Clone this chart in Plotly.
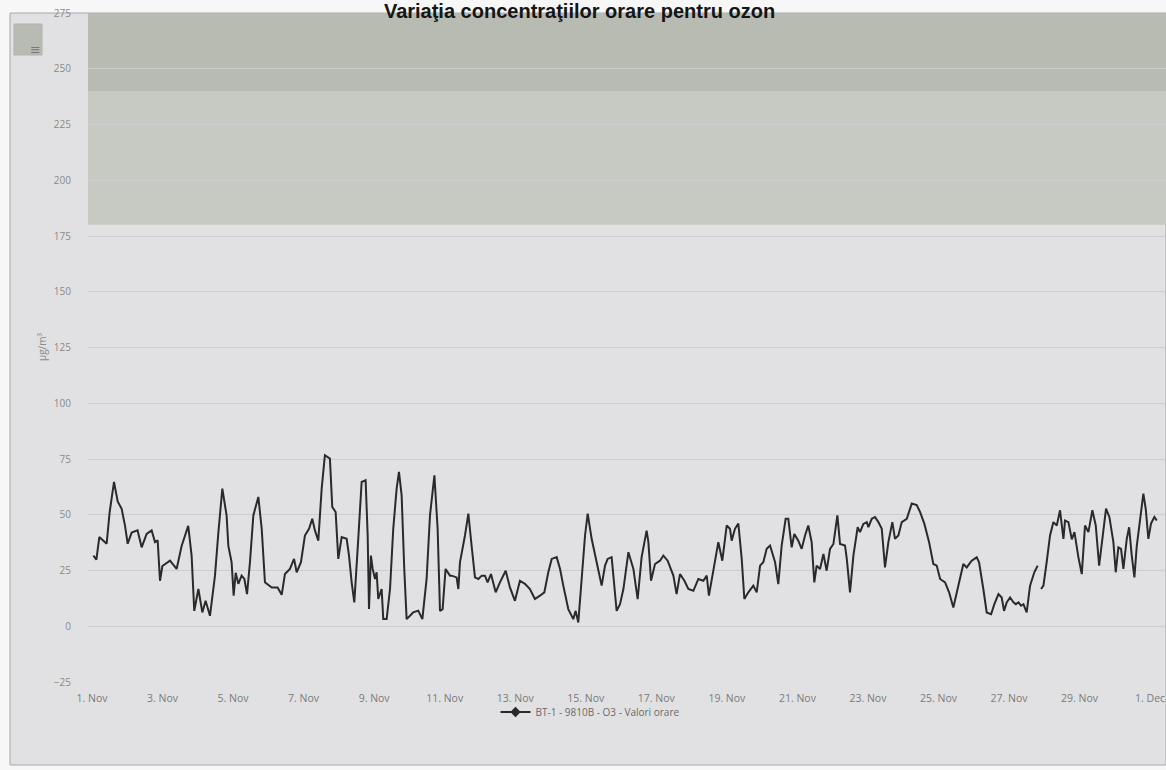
import pandas as pd
import plotly.graph_objects as go

# ---- data: (hours since 1 Nov 00:00, µg/m³) ----
seg_1_10_nov = [
    (1, 31.7), (3, 29.9), (5, 40), (10, 37), (12, 51), (15, 64.7), (17.5, 56), (20.2, 52.7),
    (22.5, 45), (24.3, 37), (27, 42), (31, 43), (33.8, 35.4), (37.2, 41.4), (40.6, 43),
    (42.9, 37.7), (44.7, 38.5), (46.3, 20.4), (47.9, 27), (53.1, 29.4), (57.6, 25.7), (61, 36),
    (65.5, 45), (67.8, 31.7), (69.6, 6.9), (72.4, 16.7), (75.1, 6.2), (77.3, 11.4), (80.3, 4.7),
    (83.7, 22.7), (86, 42), (88.7, 61.7), (91.6, 49.7), (92.8, 36), (95, 28.7), (96.4, 13.7),
    (97.8, 24), (99.6, 19), (101.8, 22.7), (103.7, 21.2), (105.5, 14.4), (107.5, 28.7),
    (109.8, 49.7), (113.2, 58), (115.5, 43.7), (117.7, 19.7), (122.3, 17.4), (126.3, 17.4),
    (129.1, 14.1), (131.3, 23.4), (134.7, 25.7), (137.5, 30.2), (139.3, 24.2), (142.2, 28.7),
    (144.9, 40.7), (147.7, 43.7), (149.9, 48.2), (151.7, 43), (154, 38.4), (156.3, 61.7),
    (158.5, 76.7), (161.9, 75.2), (163.5, 53.5), (165.8, 51.2), (167.6, 30.2), (169.9, 40),
    (173.3, 39.2), (174.9, 31.7), (176.7, 19.7), (178.5, 10.7), (181.2, 39.2), (183.5, 64.7),
    (186.2, 65.5), (187.6, 40.7), (188.5, 7.7), (189.8, 31.7), (191, 25.7), (192.6, 21.2),
    (193.7, 24.2), (194.8, 12.2), (197.1, 16.7), (198.2, 3.2), (200.5, 3.2), (202.8, 16.7),
    (205, 43.7), (207.3, 61.7), (208.9, 69.2), (210.7, 58.7), (212.5, 25.7), (214.1, 3.2),
    (216.4, 4.7), (218.6, 6.2), (222, 7), (224.8, 3.2), (227.7, 21.2), (230, 49.7), (233, 67.7),
    (235.2, 43.7), (236.8, 6.9), (238.6, 7.7), (240.6, 25.7), (243.6, 22.7),
]
seg_11_21_nov = [
    (244.7, 22.7), (248.1, 21.9), (249.3, 16.7), (250.4, 28.7), (253.8, 40.7), (256.1, 50.5),
    (258.3, 36.2), (260.6, 21.9), (262.9, 21.2), (265.2, 22.7), (267.4, 22.7), (269.2, 19.7),
    (271.5, 23.4), (274.7, 15.2), (277.6, 19.7), (281.5, 24.9), (284.4, 17.4), (287.8, 11.4),
    (291.2, 20.4), (294.6, 19), (298.0, 16.7), (301.4, 12.2), (304.8, 13.7), (307.8, 15.2),
    (310.5, 24.2), (312.8, 30.2), (316.2, 31), (318.5, 25.7), (320.7, 18.2), (324.1, 7.7),
    (327.5, 3.2), (329.1, 6.9), (330.9, 1.7), (333.2, 22.7), (335.5, 40.7), (337.3, 50.5),
    (340.0, 39.2), (343.4, 28.7), (346.8, 18.2), (349.1, 27.2), (350.9, 30.2), (353.6, 31),
    (354.7, 24.2), (357.0, 6.9), (359.3, 9.9), (361.6, 16.7), (365.0, 33.2), (368.4, 25.7),
    (371.3, 12.2), (374.0, 31), (377.4, 42.9), (378.6, 37.7), (380.4, 20.4), (383.1, 27.9),
    (386.5, 29.4), (388.8, 31.7), (391.7, 29.4), (395.6, 22.7), (397.8, 14.4), (400.1, 23.4),
    (403.1, 20.4), (405.8, 16.7), (409.2, 15.9), (412.6, 21.2), (416.0, 20.4), (418.3, 22.7),
    (419.8, 13.7), (422.8, 25.7), (426.2, 37.7), (428.9, 29.4), (431.9, 45.2), (434.1, 43.7),
    (435.3, 38.4), (437.5, 43.7), (439.8, 46), (442.1, 30.2), (443.9, 12.2), (446.6, 15.2),
    (450.0, 18.2), (452.3, 15.2), (454.6, 27.2), (456.8, 28.7), (459.1, 34.7), (461.4, 36.2),
    (464.8, 28.7), (467.0, 18.9), (469.3, 36.2), (472.0, 48.2), (473.8, 48.2), (476.1, 35.4),
    (477.9, 41.4), (480.6, 38.4), (482.9, 34.7), (485.2, 40.7), (487.4, 45.2), (489.7, 37.7),
    (491.5, 19.7),
]
seg_21_27_nov = [
    (493.1, 27.2), (495.4, 25.7), (497.7, 32.4), (499.9, 24.9), (502.2, 34.7), (504.5, 36.9),
    (507.2, 49.7), (509, 36.9), (512.4, 36.2), (513.6, 30.2), (515.8, 15.2), (518.1, 31.7),
    (521, 44.4), (522.6, 42.2), (524.9, 45.9), (527.2, 46.7), (528.3, 44.4), (530.6, 48.2),
    (532.8, 49), (535.1, 46.7), (537.4, 43.7), (539.6, 26.4), (541.9, 37.7), (544.6, 46.7),
    (546.4, 39.2), (548.7, 40.7), (551, 46.7), (554.4, 48.2), (557.8, 55), (561.2, 54.3),
    (563.5, 51.2), (566.4, 45.9), (569.6, 37.7), (572.5, 27.9), (574.8, 27.2), (577.1, 21.2),
    (580.5, 19.7), (583.2, 15.2), (586.1, 8.4), (589.1, 16.7), (592.9, 27.9), (595.2, 26.4),
    (596.8, 27.9), (598.6, 29.4), (602, 30.9), (603.6, 28.7), (606.5, 16.7), (608.8, 6.2),
    (611.8, 5.4), (614, 9.9), (616.8, 14.4), (619, 12.9), (620.6, 6.9), (622.4, 10.7),
    (624.7, 12.9), (627, 10.7), (628.6, 9.9), (630.4, 10.7), (632.2, 9.2), (633.8, 9.9),
    (636, 6.2), (638.3, 18.2), (641.2, 24.2), (643.5, 27.2),
]
# after the small gap in the record
seg_27_30_nov = [
    (645.8, 16.7), (647.4, 18.2), (649.6, 28.7), (651.9, 40.7), (654.2, 46.7), (656.5, 45.2),
    (658.7, 52), (661, 39.2), (662.1, 47.4), (664.4, 46.7), (666.7, 39), (668.5, 42.2),
    (671.2, 30.9), (673.5, 23.4), (675.7, 45.2), (678, 42.2), (680.7, 52), (683, 45.2),
    (685.3, 27.2), (687.5, 39.2), (690, 52.7), (692.3, 48.9), (695, 37.7), (696.6, 24.2),
    (698.4, 35.4), (700.2, 34.7), (701.8, 25.7), (704.1, 39.2), (705.7, 44.4), (707.5, 31.7),
    (709.3, 21.9), (710.9, 35.9), (712.7, 45.2), (715.4, 59.5), (717, 52.7), (718.8, 39.2),
    (720.6, 46), (722.9, 49), (724.5, 47.4),
]

tick_days = [1, 3, 5, 7, 9, 11, 13, 15, 17, 19, 21, 23, 25, 27, 29, 31]
tick_labels = ["1. Nov", "3. Nov", "5. Nov", "7. Nov", "9. Nov", "11. Nov", "13. Nov", "15. Nov",
               "17. Nov", "19. Nov", "21. Nov", "23. Nov", "25. Nov", "27. Nov", "29. Nov", "1. Dec"]
info_threshold = 180
alert_threshold = 240
series_name = "BT-1 - 9810B - O3 - Valori orare"
title_text = "Variaţia concentraţiilor orare pentru ozon"

base = pd.Timestamp("2019-11-01 00:00")
segments = [seg_1_10_nov + seg_11_21_nov + seg_21_27_nov, seg_27_30_nov]
xs, ys = [], []
for i, seg in enumerate(segments):
    if i > 0:
        xs.append(None)
        ys.append(None)
    for h, v in seg:
        xs.append(base + pd.Timedelta(hours=h))
        ys.append(v)

tick_vals = [base + pd.Timedelta(days=d - 1) for d in tick_days]

fig = go.Figure()
fig.add_trace(go.Scatter(x=xs, y=ys, mode="lines", line=dict(color="#2a2a2a", width=2),
                         showlegend=False, connectgaps=False))
fig.add_trace(go.Scatter(x=[None], y=[None], mode="lines+markers", name=series_name,
                         line=dict(color="#2a2a2a", width=2),
                         marker=dict(symbol="diamond", size=8, color="#2a2a2a")))

W, H = 1166, 770
L, R, T, B = 88, 0, 13, 88
pw, ph = W - L - R, H - T - B


def px_x(x):
    return (x - L) / pw


def px_y(y):
    return (H - B - y) / ph


shapes = [
    dict(type="rect", xref="paper", yref="paper", x0=px_x(10), x1=1.0, y0=px_y(765), y1=1.0,
         fillcolor="#e1e1e3", line=dict(color="#a9a9a9", width=1), layer="below"),
    dict(type="rect", xref="paper", yref="y", x0=0, x1=1, y0=info_threshold, y1=alert_threshold,
         fillcolor="#c7cac2", line=dict(width=0), layer="below"),
    dict(type="rect", xref="paper", yref="y", x0=0, x1=1, y0=alert_threshold, y1=300,
         fillcolor="#b7bbb2", line=dict(width=0), layer="below"),
    dict(type="rect", xref="paper", yref="paper", x0=px_x(14), x1=px_x(42), y0=px_y(55), y1=px_y(24),
         fillcolor="#b8bbb3", line=dict(color="#b0b3ab", width=1), layer="below"),
]

annotations = [
    dict(text="µg/m³", textangle=-90, xref="paper", yref="paper", x=px_x(33), y=px_y(347),
         showarrow=False, font=dict(family="Open Sans", size=10, color="#8a8a8a")),
    dict(text="≡", xref="paper", yref="paper", x=px_x(28), y=px_y(40), showarrow=False,
         font=dict(family="DejaVu Sans", size=13, color="#777")),
]

fig.update_layout(
    width=W, height=H,
    margin=dict(l=L, r=R, t=T, b=B, pad=0),
    paper_bgcolor="#f7f7f7",
    plot_bgcolor="#e1e1e3",
    title=dict(text="<b>" + title_text + "</b>", x=0.497, xref="container", xanchor="center",
               y=0.995, yref="container", yanchor="top",
               font=dict(family="Liberation Sans", size=20, color="#151515")),
    xaxis=dict(type="date",
               range=[base - pd.Timedelta(hours=2.7), base + pd.Timedelta(hours=730.8)],
               tickvals=tick_vals, ticktext=tick_labels, showgrid=False, zeroline=False,
               showline=False, ticks="outside", ticklen=6, tickcolor="rgba(0,0,0,0)",
               tickfont=dict(family="Open Sans", size=10.5, color="#7a7a7a")),
    yaxis=dict(range=[-25, 275], tick0=0, dtick=25, showgrid=True, gridcolor="#cdcdd0",
               gridwidth=1, zeroline=False, showline=False, ticks="",
               ticklabelstandoff=16,
               tickfont=dict(family="Open Sans", size=10, color="#8a8a8a")),
    legend=dict(orientation="h", x=px_x(590), xanchor="center", y=px_y(712), yanchor="middle",
                bgcolor="rgba(0,0,0,0)", font=dict(family="Open Sans", size=10, color="#6a6a6a")),
    shapes=shapes,
    annotations=annotations,
    showlegend=True,
)

fig.write_html("out.html", post_script="document.body.style.margin='0';",
               config={"displayModeBar": False})
